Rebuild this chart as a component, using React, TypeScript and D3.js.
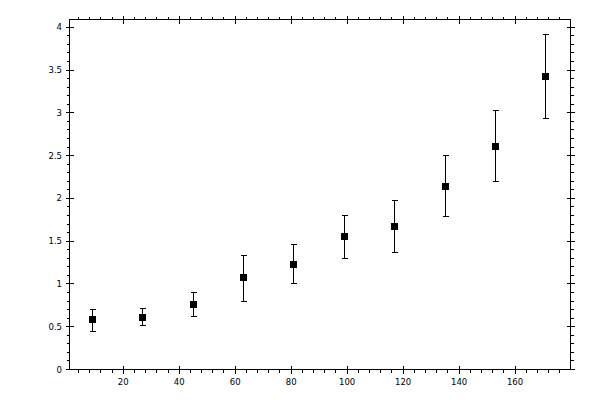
import React from "react";
import * as d3 from "d3";

const xValues = [9, 27, 45, 63, 81, 99, 117, 135, 153, 171];
const yValues = [0.58, 0.61, 0.76, 1.07, 1.23, 1.56, 1.67, 2.14, 2.61, 3.43];
const yLower = [0.45, 0.51, 0.62, 0.8, 1.01, 1.3, 1.37, 1.79, 2.2, 2.93];
const yUpper = [0.7, 0.71, 0.9, 1.33, 1.46, 1.8, 1.97, 2.5, 3.03, 3.91];

const xMajorTicks = [20, 40, 60, 80, 100, 120, 140, 160];
const xMinorTicks = d3.range(4, 180, 4).filter((v) => v % 20 !== 0);
const yMajorTicks = [0, 0.5, 1, 1.5, 2, 2.5, 3, 3.5, 4];
const yMinorTicks = d3.range(0, 41).map((v) => v / 10).filter((v) => Math.round(v * 10) % 5 !== 0);
const xTickLabels = ["20", "40", "60", "80", "100", "120", "140", "160"];
const yTickLabels = ["0", "0.5", "1", "1.5", "2", "2.5", "3", "3.5", "4"];

const W = 600;
const H = 400;
const L = 69.5;
const R = 570.5;
const T = 19.5;
const B = 369.5;

export default function App() {
  const x = d3.scaleLinear().domain([0.8, 179.8]).range([L, R]);
  const y = d3.scaleLinear().domain([0, 4.091]).range([B, T]);
  const px = (v: number) => Math.round(x(v) - 0.5) + 0.5;
  const py = (v: number) => Math.round(y(v) - 0.5) + 0.5;
  const font = "'DejaVu Sans', sans-serif";
  const majIn = 4;
  const majOut = 4;
  const minOut = 3;

  return (
    <div style={{ position: "fixed", left: 0, top: 0, width: W, height: H, background: "#fff" }}>
      <svg width={W} height={H} style={{ display: "block" }}>
        <rect x={0} y={0} width={W} height={H} fill="#fff" />
        <g stroke="#000" strokeWidth={1} shapeRendering="crispEdges" fill="none">
          <rect x={L} y={T} width={R - L} height={B - T} />
          {xMinorTicks.map((v) => (
            <g key={"xm" + v}>
              <line x1={px(v)} x2={px(v)} y1={B} y2={B + minOut} />
              <line x1={px(v)} x2={px(v)} y1={T} y2={T - minOut} />
            </g>
          ))}
          {xMajorTicks.map((v) => (
            <g key={"xM" + v}>
              <line x1={px(v)} x2={px(v)} y1={B - majIn} y2={B + majOut} />
              <line x1={px(v)} x2={px(v)} y1={T + majIn} y2={T - majOut} />
            </g>
          ))}
          {yMinorTicks.map((v) => (
            <g key={"ym" + v}>
              <line x1={L} x2={L - minOut} y1={py(v)} y2={py(v)} />
              <line x1={R} x2={R + minOut} y1={py(v)} y2={py(v)} />
            </g>
          ))}
          {yMajorTicks.map((v) => (
            <g key={"yM" + v}>
              <line x1={L + majIn} x2={L - majOut} y1={py(v)} y2={py(v)} />
              <line x1={R - majIn} x2={R + majOut} y1={py(v)} y2={py(v)} />
            </g>
          ))}
        </g>
        <g fontFamily={font} fontSize={8.5} fill="#000">
          {xMajorTicks.map((v, i) => (
            <text key={"xl" + v} x={x(v)} y={B + 15} textAnchor="middle">
              {xTickLabels[i]}
            </text>
          ))}
          {yMajorTicks.map((v, i) => (
            <text key={"yl" + v} x={L - 7.5} y={y(v) + 3} textAnchor="end">
              {yTickLabels[i]}
            </text>
          ))}
        </g>
        <g stroke="#000" strokeWidth={1} shapeRendering="crispEdges">
          {xValues.map((xv, i) => {
            const cx = px(xv);
            return (
              <g key={"e" + i}>
                <line x1={cx} x2={cx} y1={py(yLower[i])} y2={py(yUpper[i])} />
                <line x1={cx - 3} x2={cx + 3} y1={py(yLower[i])} y2={py(yLower[i])} />
                <line x1={cx - 3} x2={cx + 3} y1={py(yUpper[i])} y2={py(yUpper[i])} />
              </g>
            );
          })}
        </g>
        <g fill="#000" shapeRendering="crispEdges">
          {xValues.map((xv, i) => (
            <rect
              key={"m" + i}
              x={Math.round(x(xv) - 3.5)}
              y={Math.round(y(yValues[i]) - 3.5)}
              width={7}
              height={7}
            />
          ))}
        </g>
      </svg>
    </div>
  );
}
